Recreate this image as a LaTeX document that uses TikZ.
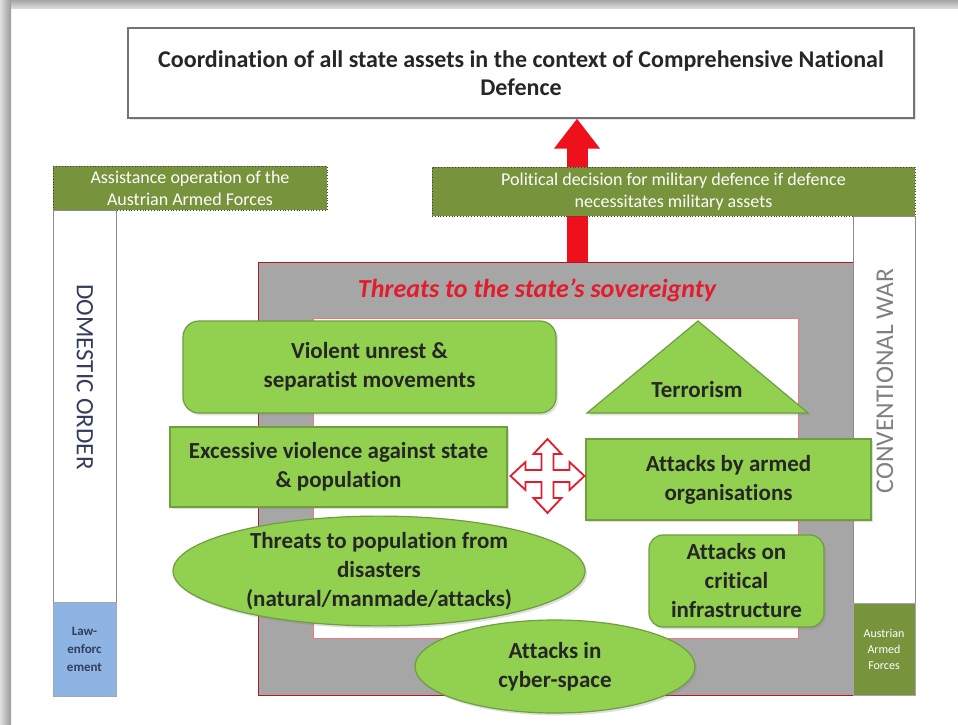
\documentclass[tikz,border=0pt]{standalone}
\usepackage{fontspec}
\setmainfont{Carlito}[Ligatures=NoCommon]
\usetikzlibrary{shapes.geometric, shadows, arrows.meta}
\definecolor{threatgreen}{RGB}{146,208,80}
\definecolor{threatedge}{RGB}{110,158,62}
\definecolor{armyolive}{RGB}{119,147,60}
\definecolor{lawblue}{RGB}{141,180,226}
\definecolor{framegray}{RGB}{166,166,166}
\definecolor{alertred}{RGB}{226,28,44}
\definecolor{slateblue}{RGB}{52,62,92}

\begin{document}
\begin{tikzpicture}[x=0.5pt, y=-0.5pt,
  threat/.style={draw=threatedge, fill=threatgreen, line width=0.6pt, align=center,
    font=\fontsize{11.5}{14.5}\selectfont\bfseries, text=black!85, inner sep=0pt,
    drop shadow={opacity=0.25, shadow xshift=1pt, shadow yshift=-1.2pt}},
  decision/.style={draw=black!75, densely dotted, fill=armyolive, text=white, align=center,
    font=\fontsize{9}{11}\selectfont, inner sep=0pt},
  column/.style={draw=black!45, fill=white, line width=0.5pt, inner sep=0pt},
  force/.style={draw=black!35, line width=0.5pt, inner sep=0pt, align=center}]
\useasboundingbox (0,0) rectangle (958,724);
\fill[white] (0,0) rectangle (958,724);
\shade[left color=black!12, right color=black!40] (0,0) rectangle (11,724);
\shade[top color=black!35, bottom color=black!15] (11,0) rectangle (958,8);

\node[draw=black!55, fill=white, line width=0.6pt, minimum width=393pt, minimum height=45pt,
  align=center, font=\fontsize{12}{14}\selectfont\bfseries, text=black!85,
  drop shadow={opacity=0.2, shadow xshift=1pt, shadow yshift=-1pt}] (coord) at (521,73)
  {Coordination of all state assets in the context of Comprehensive National\\Defence};

\node[draw=alertred!80!black, fill=framegray, line width=0.5pt, minimum width=297.5pt,
  minimum height=216.5pt, inner sep=0pt] (frame) at (555.5,478.5) {};
\node[draw=alertred!60, fill=white, line width=0.4pt, minimum width=242.5pt,
  minimum height=160pt, inner sep=0pt] (core) at (555.5,478) {};
\coordinate (rise) at (577,262);
\draw[alertred!60!red, line width=10.5pt, -{Triangle[length=15pt, width=22pt]}]
  (rise) -- (rise |- coord.south);

\node[decision, minimum width=137pt, minimum height=22pt] (assist) at (190,188)
  {Assistance operation of the\\Austrian Armed Forces};
\node[decision, minimum width=241.5pt, minimum height=24.5pt] (politics) at (673.5,191.5)
  {Political decision for military defence if defence\\necessitates military assets};

\node[column, minimum width=31.5pt, minimum height=196pt] (domestic) at (84.5,406) {};
\node[force, fill=lawblue, minimum width=31.5pt, minimum height=47pt, text=slateblue,
  font=\fontsize{6.5}{9}\selectfont\bfseries] (law) at (84.5,649) {Law-\\enforc\\ement};
\node[rotate=-90, text=slateblue, font=\fontsize{12.5}{14}\selectfont] (domlabel) at (85,377)
  {DOMESTIC ORDER};
\node[column, minimum width=31pt, minimum height=193.5pt] (conventional) at (884,409.5) {};
\node[force, fill=armyolive, minimum width=31pt, minimum height=46pt, text=white,
  font=\fontsize{6}{8}\selectfont] (army) at (884,649) {Austrian\\Armed\\Forces};
\node[rotate=90, text=black!50, font=\fontsize{12.8}{15}\selectfont] (warlabel) at (885,381)
  {CONVENTIONAL WAR};

\node[text=alertred, font=\fontsize{13}{15}\selectfont\bfseries\itshape] (title) at (537,290)
  {Threats to the state’s sovereignty};

\node[threat, rounded corners=8pt, minimum width=186.5pt, minimum height=46pt] (unrest)
  at (369.5,367) {Violent unrest \&\\separatist movements};
\node[threat, minimum width=168.5pt, minimum height=40pt] (excess) at (338.5,467)
  {Excessive violence against state\\\& population};
\filldraw[threat] (698,321) -- (808,413) -- (587,413) -- cycle;
\node[font=\fontsize{11.5}{14.5}\selectfont\bfseries, text=black!85] (terror) at (697,390)
  {Terrorism};
\node[threat, minimum width=142.5pt, minimum height=40.5pt] (armed) at (728.5,479.5)
  {Attacks by armed\\organisations};
\node[threat, rounded corners=7pt, minimum width=87.5pt, minimum height=46pt] (critical)
  at (736.5,581) {Attacks on\\critical\\infrastructure};
\node[threat, ellipse, minimum width=206pt, minimum height=51pt] (disaster) at (379,571)
  {Threats to population from\\disasters\\(natural/manmade/attacks)};
\node[threat, ellipse, minimum width=140pt, minimum height=46.5pt] (cyber) at (555,666.5)
  {Attacks in\\cyber-space};

\filldraw[draw=alertred, fill=white, line width=0.9pt, shift={(547.5,476)}]
  (37,0) -- (22,-14) -- (22,-6) -- (6,-6) -- (6,-22) -- (14,-22) -- (0,-37)
  -- (-14,-22) -- (-6,-22) -- (-6,-6) -- (-22,-6) -- (-22,-14) -- (-37,0)
  -- (-22,14) -- (-22,6) -- (-6,6) -- (-6,22) -- (-14,22) -- (0,37)
  -- (14,22) -- (6,22) -- (6,6) -- (22,6) -- (22,14) -- cycle;
\end{tikzpicture}
\end{document}
